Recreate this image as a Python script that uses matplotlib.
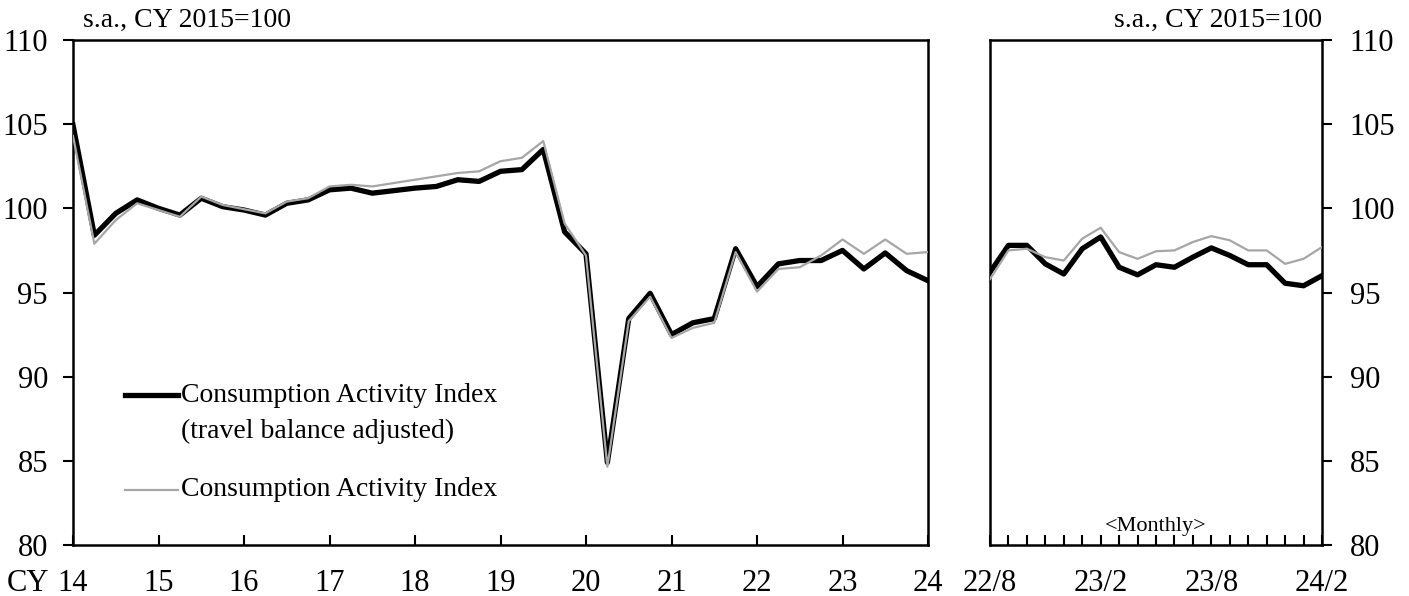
import numpy as np
import matplotlib
matplotlib.use("Agg")
import matplotlib.pyplot as plt
from matplotlib.lines import Line2D

plt.rcParams['font.family'] = ['Liberation Serif', 'DejaVu Serif']

# quarterly data, 2014Q1 .. 2024Q1 (plotted at year + quarter offset)
q_years = [14 + 0.25 * i for i in range(41)]
cai_adj_q = [104.95, 98.4, 99.7, 100.5, 100.0, 99.6, 100.6, 100.1, 99.9, 99.6,
             100.3, 100.5, 101.1, 101.2, 100.9, 101.05, 101.2, 101.3, 101.7, 101.6,
             102.2, 102.3, 103.5, 98.6, 97.3, 84.9, 93.45, 94.95, 92.5, 93.2,
             93.45, 97.6, 95.35, 96.7, 96.9, 96.9, 97.5, 96.4, 97.35, 96.3, 95.7]
cai_q = [104.3, 97.9, 99.3, 100.3, 99.9, 99.5, 100.7, 100.2, 99.95, 99.7,
         100.4, 100.6, 101.3, 101.4, 101.3, 101.5, 101.7, 101.9, 102.1, 102.2,
         102.8, 103.0, 104.0, 99.1, 97.2, 84.65, 93.3, 94.75, 92.3, 92.9,
         93.2, 97.4, 95.05, 96.4, 96.5, 97.2, 98.15, 97.3, 98.15, 97.3, 97.4]

# monthly data, 2022/8 .. 2024/2
months = ['22/8', '22/9', '22/10', '22/11', '22/12', '23/1', '23/2', '23/3', '23/4', '23/5',
          '23/6', '23/7', '23/8', '23/9', '23/10', '23/11', '23/12', '24/1', '24/2']
cai_adj_m = [96.2, 97.8, 97.8, 96.7, 96.1, 97.6, 98.3, 96.5, 96.05, 96.65,
             96.5, 97.1, 97.65, 97.2, 96.65, 96.65, 95.55, 95.4, 96.0]
cai_m = [95.8, 97.5, 97.6, 97.1, 96.9, 98.2, 98.85, 97.4, 97.0, 97.45,
         97.5, 98.0, 98.35, 98.1, 97.5, 97.5, 96.7, 97.0, 97.7]

year_ticks = list(range(14, 25))
y_ticks = [80, 85, 90, 95, 100, 105, 110]

FS = 20      # annotation / legend text
TS = 22      # tick labels
XPAD = 17
gray = '#a6a6a6'

fig = plt.figure(figsize=(14.09, 5.96), dpi=100)
ax1 = fig.add_axes([73 / 1409, 51 / 596, 855 / 1409, 505 / 596])
ax2 = fig.add_axes([990 / 1409, 51 / 596, 332 / 1409, 505 / 596])

# left panel: quarterly
ax1.plot(q_years, cai_adj_q, color='black', lw=3.8, zorder=3)
ax1.plot(q_years, cai_q, color=gray, lw=1.6, zorder=4)
ax1.set_xlim(14, 24)
ax1.set_ylim(80, 110)
ax1.set_xticks(year_ticks)
ax1.set_xticklabels([str(y) for y in year_ticks])
ax1.set_yticks(y_ticks)
ax1.tick_params(axis='x', direction='in', length=7, width=1.5, pad=XPAD, labelsize=TS)
ax1.tick_params(axis='y', direction='out', length=7, width=1.5, pad=11, labelsize=TS)
ax1.annotate('CY', xy=(0, 0), xycoords='axes fraction', xytext=(-17, -XPAD),
             textcoords='offset points', fontsize=TS, ha='right', va='top')
ax1.text(0.012, 1.015, 's.a., CY 2015=100', transform=ax1.transAxes, fontsize=FS,
         ha='left', va='bottom')

# legend drawn by hand
ax1.add_line(Line2D([0.061, 0.123], [0.297, 0.297], transform=ax1.transAxes,
                    color='black', lw=3.8))
ax1.text(0.126, 0.297, 'Consumption Activity Index', transform=ax1.transAxes,
         fontsize=FS, ha='left', va='center')
ax1.text(0.126, 0.224, '(travel balance adjusted)', transform=ax1.transAxes,
         fontsize=FS, ha='left', va='center')
ax1.add_line(Line2D([0.061, 0.123], [0.109, 0.109], transform=ax1.transAxes,
                    color=gray, lw=1.6))
ax1.text(0.126, 0.109, 'Consumption Activity Index', transform=ax1.transAxes,
         fontsize=FS, ha='left', va='center')

# right panel: monthly
xm = np.arange(len(months))
ax2.plot(xm, cai_adj_m, color='black', lw=3.8, zorder=3)
ax2.plot(xm, cai_m, color=gray, lw=1.6, zorder=4)
ax2.set_xlim(0, len(months) - 1)
ax2.set_ylim(80, 110)
ax2.set_xticks(xm)
ax2.set_xticklabels([m if i % 6 == 0 else '' for i, m in enumerate(months)])
ax2.set_yticks(y_ticks)
ax2.yaxis.tick_right()
ax2.tick_params(axis='x', direction='in', length=7, width=1.5, pad=XPAD, labelsize=TS)
ax2.tick_params(axis='y', direction='out', length=7, width=1.5, pad=13, labelsize=TS)
ax2.text(1.0, 1.015, 's.a., CY 2015=100', transform=ax2.transAxes, fontsize=FS,
         ha='right', va='bottom')
ax2.text(0.5, 0.018, '<Monthly>', transform=ax2.transAxes, fontsize=16,
         ha='center', va='bottom')

for ax in (ax1, ax2):
    for s in ax.spines.values():
        s.set_linewidth(1.8)

fig.savefig('out.png', dpi=100)
